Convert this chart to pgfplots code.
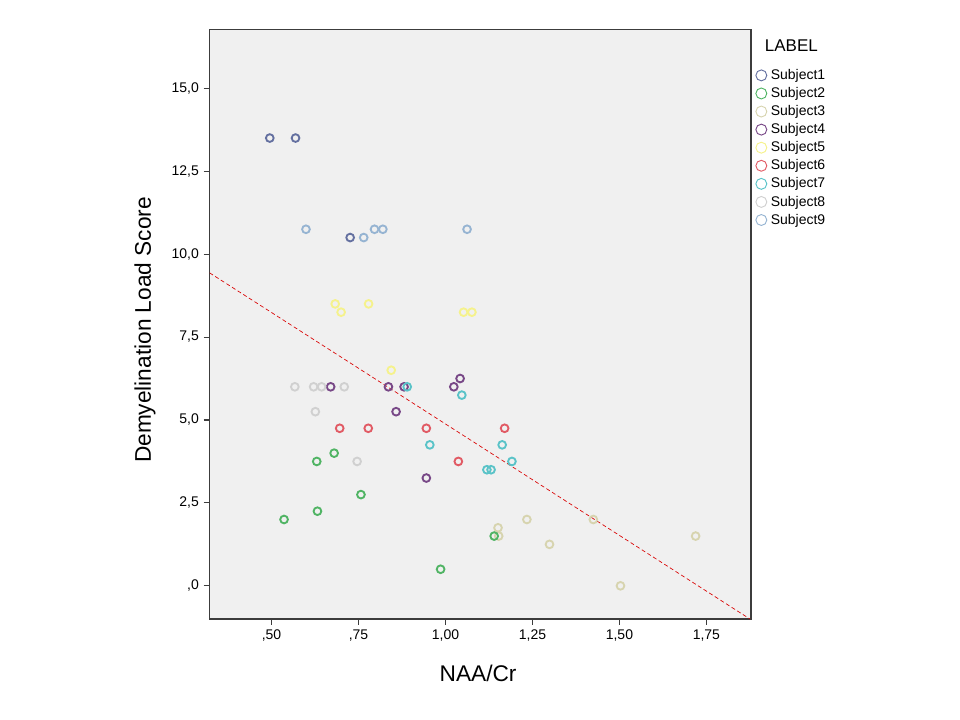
\documentclass[border=0pt]{standalone}
\usepackage{pgfplots}
\pgfplotsset{compat=1.18}
\usepackage{fontspec}
\setmainfont{Liberation Sans}
\definecolor{sA}{RGB}{100,112,160}
\definecolor{sB}{RGB}{80,180,100}
\definecolor{sC}{RGB}{215,212,175}
\definecolor{sD}{RGB}{120,72,135}
\definecolor{sE}{RGB}{245,242,140}
\definecolor{sF}{RGB}{225,90,100}
\definecolor{sG}{RGB}{90,195,200}
\definecolor{sH}{RGB}{208,208,208}
\definecolor{sI}{RGB}{150,180,210}
\definecolor{bg}{RGB}{240,240,240}
\definecolor{frame}{RGB}{60,60,60}
\begin{document}
\begin{tikzpicture}
\path[use as bounding box] (0,0) rectangle (720pt,540pt);
\begin{axis}[
  name=main,
  at={(157.2pt,75.75pt)}, anchor=south west,
  width=406pt, height=442.3pt, scale only axis,
  xmin=0.322, xmax=1.878, ymin=-1.0, ymax=16.78,
  axis background/.style={fill=bg},
  axis line style={frame, line width=0.9pt},
  tick style={frame, line width=0.8pt},
  tick align=outside, major tick length=4.5pt,
  xtick pos=lower, ytick pos=left,
  xtick={0.5,0.75,1.0,1.25,1.5,1.75},
  xticklabels={{,50},{,75},{1,00},{1,25},{1,50},{1,75}},
  ytick={0,2.5,5,7.5,10,12.5,15},
  yticklabels={{,0},{2,5},{5,0},{7,5},{10,0},{12,5},{15,0}},
  tick label style={font=\fontsize{10.5pt}{12pt}\selectfont, text=black},
  xlabel={NAA/Cr}, ylabel={Demyelination Load Score},
  xlabel style={at={(axis description cs:0.496,-0.0916)}, anchor=center, font=\fontsize{17pt}{20pt}\selectfont},
  ylabel style={at={(axis description cs:-0.1194,0.49)}, anchor=center, rotate=0, font=\fontsize{17pt}{20pt}\selectfont},
  legend style={at={(rel axis cs:1,0.9366)}, xshift=2.5pt, anchor=north west, draw=none, fill=none,
    font=\fontsize{10.5pt}{12pt}\selectfont, row sep=2.85pt, column sep=2.2pt, inner sep=1pt,
    nodes={inner sep=0.8pt}},
  legend cell align=left,
  legend image code/.code={\draw[mark repeat=2,mark phase=2,#1] plot coordinates {(0pt,0pt) (4.2pt,0pt) (10.8pt,0pt)};},
  every axis plot/.append style={only marks, mark=o, mark size=2.9pt, line width=1.4pt},
  clip=true,
]
\addlegendimage{only marks, mark=o, sA, mark size=4.1pt, line width=0.7pt}
\addlegendentry{Subject1}
\addlegendimage{only marks, mark=o, sB, mark size=4.1pt, line width=0.7pt}
\addlegendentry{Subject2}
\addlegendimage{only marks, mark=o, sC, mark size=4.1pt, line width=0.7pt}
\addlegendentry{Subject3}
\addlegendimage{only marks, mark=o, sD, mark size=4.1pt, line width=0.7pt}
\addlegendentry{Subject4}
\addlegendimage{only marks, mark=o, sE, mark size=4.1pt, line width=0.7pt}
\addlegendentry{Subject5}
\addlegendimage{only marks, mark=o, sF, mark size=4.1pt, line width=0.7pt}
\addlegendentry{Subject6}
\addlegendimage{only marks, mark=o, sG, mark size=4.1pt, line width=0.7pt}
\addlegendentry{Subject7}
\addlegendimage{only marks, mark=o, sH, mark size=4.1pt, line width=0.7pt}
\addlegendentry{Subject8}
\addlegendimage{only marks, mark=o, sI, mark size=4.1pt, line width=0.7pt}
\addlegendentry{Subject9}
% Subject3
\addplot[sC, forget plot] coordinates {(1.151,1.75) (1.153,1.5) (1.234,2.0) (1.299,1.25) (1.425,2.0) (1.503,0) (1.719,1.5)};
% Subject1
\addplot[sA, forget plot] coordinates {(0.495,13.5) (0.569,13.5) (0.726,10.5)};
% Subject2
\addplot[sB, forget plot] coordinates {(0.680,4.0) (0.630,3.75) (0.757,2.75) (0.632,2.25) (0.536,2.0) (1.140,1.5) (0.986,0.5)};
% Subject4
\addplot[sD, forget plot] coordinates {(0.670,6) (0.836,6) (0.881,6) (1.024,6) (1.042,6.25) (0.858,5.25) (0.945,3.25)};
% Subject5
\addplot[sE, forget plot] coordinates {(0.683,8.5) (0.700,8.25) (0.779,8.5) (1.052,8.25) (1.076,8.25) (0.844,6.5)};
% Subject6
\addplot[sF, forget plot] coordinates {(0.696,4.75) (0.778,4.75) (0.945,4.75) (1.170,4.75) (1.037,3.75)};
% Subject7
\addplot[sG, forget plot] coordinates {(0.890,6) (1.047,5.75) (0.955,4.25) (1.163,4.25) (1.191,3.75) (1.119,3.5) (1.131,3.5)};
% Subject8
\addplot[sH, forget plot] coordinates {(0.567,6) (0.621,6) (0.644,6) (0.709,6) (0.626,5.25) (0.746,3.75)};
% Subject9
\addplot[sI, forget plot] coordinates {(0.599,10.75) (0.765,10.5) (0.796,10.75) (0.820,10.75) (1.062,10.75)};
% fit line
\addplot[forget plot, no marks, sharp plot, red!85!black, densely dashed, line width=0.5pt] coordinates {(0.322,9.436) (1.878,-1.02)};
\end{axis}
\node[anchor=center, font=\fontsize{12.75pt}{15pt}\selectfont] at ([xshift=30.3pt,yshift=-12.6pt]main.north east) {LABEL};
\end{tikzpicture}
\end{document}
